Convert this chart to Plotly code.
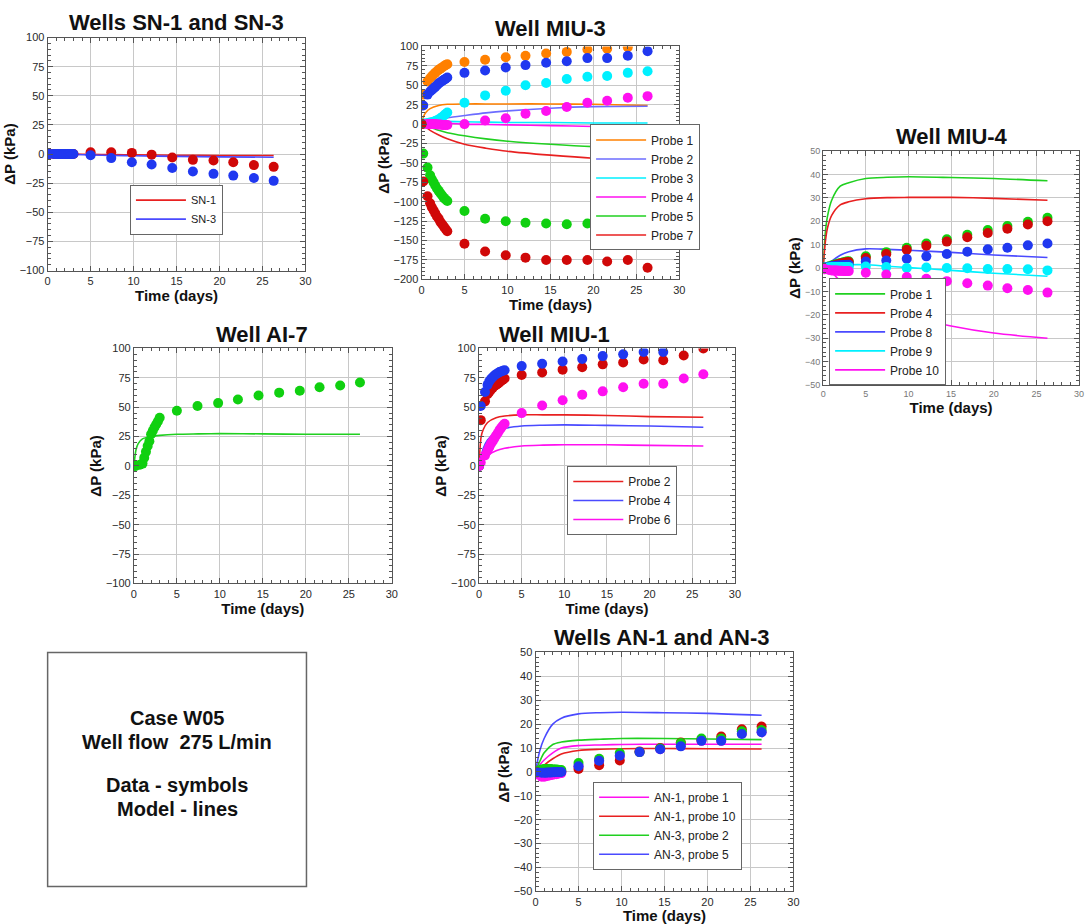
import plotly.graph_objects as go

W, H = 1088, 924

# ---------------- data ----------------
T_EARLY = [0, 0.2, 0.7, 1.0, 1.2, 1.4, 1.6, 1.8, 2.0, 2.2, 2.4, 2.6, 2.8, 3.0]
T_LATE = [5.0, 7.4, 9.8, 12.1, 14.5, 16.9, 19.3, 21.6, 24.0, 26.3]
T_DATA = T_EARLY + T_LATE
T_MODEL = [0, 0.25, 0.5, 1, 2, 3, 5, 7.5, 10, 15, 20, 26.3]

# Wells SN-1 and SN-3
SN1_DATA = [0, 0, 0, 0, 0, 0, 0, 0, 0, 0, 0, 0, 0, 0, 1.5, 1.5, 1, -0.5, -3, -5, -5.5, -7, -9.5, -11]
SN3_DATA = [0, 0, 0, 0, 0, 0, 0, 0, 0, 0, 0, 0, 0, 0, -1, -3.5, -7, -9, -12, -15, -17, -18.5, -20.5, -23]
SN1_MODEL = [0, 0, 0, 0, 0, -0.1, -0.3, -0.5, -0.7, -1, -1.2, -1.3]
SN3_MODEL = [0, 0, 0, 0, -0.2, -0.4, -0.8, -1.2, -1.5, -2, -2.4, -2.7]

# Well MIU-3
M3_P1_DATA = [0, 38, 55, 59, 61.5, 64, 66, 68, 70, 71.5, 73, 74.5, 76, 77, 80, 83, 86, 88, 91, 93, 96, 97, 99, None]
M3_P2_DATA = [0, 24, 38, 42, 44, 46, 48, 50, 52.5, 54, 55.5, 57, 58.5, 60, 66, 69, 73, 76, 79, 81, 85, 85, 88, 94]
M3_P3_DATA = [0, 1, 1.5, 2, 2.5, 3, 4, 5, 6, 7.5, 9, 11, 13, 15, 27.5, 37, 43, 50, 53, 58, 61, 62, 66, 68]
M3_P4_DATA = [0, 0, 0, 0, 0, 0, 0, -0.5, -0.5, -0.5, -1, -1, -1, -1, 0, 4.6, 7.6, 13.5, 17, 22, 27.5, 30, 34, 36]
M3_P5_DATA = [0, -38, -56, -66, -71, -75, -79, -83, -86, -89, -92, -95, -97, -99, -112, -122, -125, -127, -128, -129, -128, -130, -131, -134]
M3_P7_DATA = [0, -74, -93, -102, -107, -111, -115, -119, -122, -126, -129, -132, -135, -138, -154, -164, -169, -172, -175, -175, -175, -177, -175, -185]
M3_P1_MODEL = [0, 10, 15, 20, 24, 25.5, 26, 26, 26, 26, 25.5, 24]
M3_P2_MODEL = [0, 1, 2, 3.5, 6, 8, 11, 14.5, 17, 20.5, 22.5, 23]
M3_P3_MODEL = [0, 2, 3, 4, 4, 3.5, 3, 2.5, 2, 2, 1.5, 1.5]
M3_P4_MODEL = [0, 1, 1.5, 2, 1.5, 1, 0, -0.5, -1, -2, -3, -5]
M3_P5_MODEL = [0, -1, -2, -4, -8, -11, -15, -19, -22, -26, -29, -31]
M3_P7_MODEL = [0, -2, -4, -8, -14, -19, -26, -31, -35, -40, -44, -47]

# Well MIU-4
M4_P1_DATA = [0, 0.5, 0.8, 1.1, 1.3, 1.5, 1.7, 1.9, 2.1, 2.3, 2.5, 2.7, 2.8, 2.9, 5, 6.8, 8.7, 10.5, 12.3, 14.2, 16.3, 18, 19.8, 21.5]
M4_P4_DATA = [0, 0.2, 0.5, 0.8, 1.0, 1.2, 1.4, 1.6, 1.8, 2.0, 2.2, 2.4, 2.5, 2.6, 4.3, 6, 7.8, 9.5, 11.3, 13.2, 15, 16.8, 18.6, 20]
M4_P8_DATA = [0, 0.3, 0.6, 0.8, 0.9, 1.0, 1.0, 1.1, 1.1, 1.2, 1.2, 1.3, 1.3, 1.4, 2.8, 3.2, 4, 5, 6, 7, 8, 8.7, 9.7, 10.5]
M4_P9_DATA = [0, 0.2, 0.3, 0.4, 0.4, 0.4, 0.5, 0.5, 0.5, 0.5, 0.5, 0.5, 0.5, 0.5, 0.7, 0.4, 0, 0.2, 0, -0.1, -0.4, -0.4, -0.5, -1]
M4_P10_DATA = [0, -0.5, -0.8, -1, -1, -1.1, -1.1, -1.2, -1.2, -1.2, -1.3, -1.3, -1.3, -1.3, -2, -2.8, -3.8, -4.6, -5.6, -6.5, -7.5, -8.6, -9.4, -10.5]
M4_P1_MODEL = [0, 15, 22, 29, 35, 36.5, 38.3, 38.8, 39, 38.7, 38.3, 37.3]
M4_P4_MODEL = [0, 11, 17, 22.5, 27, 28.3, 29.6, 30.1, 30.2, 30.2, 29.8, 29]
M4_P8_MODEL = [0, 0.8, 1.5, 3, 5.5, 7, 8.2, 8, 7.6, 6.7, 5.6, 4.5]
M4_P9_MODEL = [0, 0.2, 0.4, 0.8, 1.2, 1.4, 1.4, 0.8, 0.2, -1, -2.2, -3.5]
M4_P10_MODEL = [0, -0.5, -1, -2, -5.5, -8.5, -13.5, -17.5, -20.5, -24.8, -27.8, -30]

# Well AI-7
AI7_DATA = [0, 0, 1, 2, 7, 12, 17, 21, 27, 30, 33, 35.5, 38, 41, 47, 51, 53.5, 56.5, 60, 62.4, 64, 67, 68.5, 71]
AI7_MODEL = [0, 14, 19, 23, 25, 26, 27, 27.3, 27.5, 27.3, 27, 27]

# Well MIU-1
M1_P2_DATA = [0, 39, 55, 61, 63, 65, 66.5, 68, 69, 70, 71, 72.5, 73.5, 74.5, 77.5, 79.5, 82, 84, 86.5, 88, 90.7, 90, 94, 100]
M1_P4_DATA = [0, 51, 63, 69, 72, 74, 75.5, 77, 78, 79, 80, 80.5, 81, 81.5, 85, 87, 89, 91, 93.5, 95, 97, 97, None, None]
M1_P6_DATA = [0, 3, 9, 13, 16, 19, 21, 23.5, 26, 28, 30.5, 32.5, 34.5, 36, 45, 51.5, 56, 60.7, 63.5, 67, 70, 70, 74.5, 78]
M1_P2_MODEL = [0, 25, 31, 37, 41, 42.5, 43.5, 43.5, 43.5, 43, 42, 41.5]
M1_P4_MODEL = [0, 8, 15, 22, 29, 32, 34, 34.7, 35, 34.5, 34, 33]
M1_P6_MODEL = [0, 3, 5, 9, 13, 15, 17, 17.7, 18, 18, 17.5, 17]

# Wells AN-1 and AN-3
AN1P1_DATA = [0, -1, -2, -2, -1.8, -1.6, -1.5, -1.3, -1.2, -1, -1, -0.8, -0.6, -0.5, 2.4, 4.7, 6.8, 8.3, 9.5, 10.8, 13, 13, 16, 16.6]
AN1P10_DATA = [0, 0.5, 0.8, 1, 1, 1, 1, 1, 0.8, 0.8, 0.6, 0.5, 0.3, 0.2, 1.2, 2.8, 4.8, 8.6, 10, 12.3, 13.5, 14.8, 17.9, 19]
AN3P2_DATA = [0, 0.5, 1, 1.2, 1.2, 1.2, 1.2, 1.1, 1, 1, 1, 0.9, 0.8, 0.8, 3.7, 5.5, 7.9, 8.3, 9.8, 12.1, 14, 14, 17, 17.5]
AN3P5_DATA = [0, -0.2, -0.3, -0.3, -0.3, -0.2, -0.2, -0.2, -0.1, -0.1, 0, 0, 0, 0, 2.4, 4.7, 6.8, 8.3, 9.5, 10.7, 13, 13, 15.9, 16.6]
AN1P1_MODEL = [0, 1.5, 3, 5, 8, 10, 11, 11.3, 11.5, 11.6, 11.6, 11.6]
AN1P10_MODEL = [0, 0.5, 1, 2.8, 5.5, 7.5, 9, 9.5, 9.7, 9.8, 9.7, 9.6]
AN3P2_MODEL = [0, 2.5, 4.5, 8, 11.5, 12.5, 13.3, 13.7, 14, 14, 13.8, 13.5]
AN3P5_MODEL = [0, 5, 9, 14, 20, 22.5, 24.3, 24.8, 25, 24.8, 24.5, 23.7]

# ---------------- styles ----------------
FONT = "Liberation Sans, Arial, sans-serif"
C_ORANGE = "#FF8000"
C_BLUE_D = "#2038F0"
C_BLUE_L = "#4a4aff"
C_CYAN = "#00F0FF"
C_MAG = "#FF10F0"
C_GREEN_D = "#10D010"
C_GREEN_L = "#20D020"
C_RED_D = "#D00808"
C_RED_L = "#E82020"
GRID = "#c8c8c8"
FRAME = "#555555"

fig = go.Figure()


def px_dom_x(x0, x1):
    return [x0 / W, x1 / W]


def px_dom_y(y0, y1):
    return [1 - y1 / H, 1 - y0 / H]


# panel: key, x pixel span, y pixel span, y range, dtick, minor dtick, small ticks
PANELS = [
    ("1", (45, 305), (32, 268), [-100, 100], 25, 5, False),
    ("2", (422, 682), (41, 277), [-200, 100], 25, 5, False),
    ("3", (827, 1085), (147, 384), [-50, 50], 10, 2, True),
    ("4", (132, 392), (347, 585), [-100, 100], 25, 5, False),
    ("5", (480, 738), (347, 585), [-100, 100], 25, 5, False),
    ("6", (537, 797), (655, 897), [-50, 50], 10, 2, False),
]

layout = dict(
    width=W, height=H, margin=dict(l=0, r=0, t=0, b=0),
    paper_bgcolor="white", plot_bgcolor="white",
    font=dict(family=FONT, color="#222"),
    showlegend=True,
    annotations=[], shapes=[],
)

for key, (x0, x1), (y0, y1), yr, dt, mdt, small in PANELS:
    tf = dict(family=FONT, size=9 if small else 11, color="#777" if small else "#2a2a2a")
    xa = "xaxis" if key == "1" else "xaxis" + key
    ya = "yaxis" if key == "1" else "yaxis" + key
    xr = "x" if key == "1" else "x" + key
    yref = "y" if key == "1" else "y" + key
    layout[xa] = dict(
        domain=px_dom_x(x0, x1), anchor=yref, range=[0, 30], dtick=5, tick0=0,
        showgrid=True, gridcolor=GRID, gridwidth=1, zeroline=False,
        showline=True, linecolor=FRAME, linewidth=1, mirror="ticks",
        ticks="inside", ticklen=5, tickcolor=FRAME, tickfont=tf,
        minor=dict(ticks="inside", ticklen=3, dtick=1, tickcolor=FRAME, showgrid=False),
        title=dict(text="<b>Time (days)</b>", font=dict(family=FONT, size=15, color="#111"), standoff=0),
        fixedrange=True,
    )
    layout[ya] = dict(
        domain=px_dom_y(y0, y1), anchor=xr, range=yr, dtick=dt, tick0=0,
        showgrid=True, gridcolor=GRID, gridwidth=1, zeroline=False,
        showline=True, linecolor=FRAME, linewidth=1, mirror="ticks",
        ticks="inside", ticklen=5, tickcolor=FRAME, tickfont=tf,
        minor=dict(ticks="inside", ticklen=3, dtick=mdt, tickcolor=FRAME, showgrid=False),
        title=dict(text="<b>\u0394P (kPa)</b>", font=dict(family=FONT, size=15, color="#111"), standoff=0),
        fixedrange=True,
    )


def add_panel(key, models, datas, legend_on=True):
    xr = "x" if key == "1" else "x" + key
    yr = "y" if key == "1" else "y" + key
    lg = "legend" if key == "1" else "legend" + key
    for name, vals, col in models:
        fig.add_trace(go.Scatter(
            x=T_MODEL, y=vals, mode="lines", name=name, xaxis=xr, yaxis=yr,
            line=dict(color=col, width=1.6, shape="spline", smoothing=0.8),
            legend=lg, showlegend=legend_on, hoverinfo="skip"))
    for vals, col in datas:
        fig.add_trace(go.Scatter(
            x=T_DATA, y=vals, mode="markers", xaxis=xr, yaxis=yr,
            marker=dict(color=col, size=10, line=dict(width=0)),
            legend=lg, showlegend=False, hoverinfo="skip"))


add_panel("1",
          [("SN-1", SN1_MODEL, C_RED_L), ("SN-3", SN3_MODEL, C_BLUE_L)],
          [(SN1_DATA, C_RED_D), (SN3_DATA, C_BLUE_D)])
add_panel("2",
          [("Probe 1", M3_P1_MODEL, C_ORANGE), ("Probe 2", M3_P2_MODEL, "#6c6cff"),
           ("Probe 3", M3_P3_MODEL, C_CYAN), ("Probe 4", M3_P4_MODEL, C_MAG),
           ("Probe 5", M3_P5_MODEL, C_GREEN_L), ("Probe 7", M3_P7_MODEL, C_RED_L)],
          [(M3_P1_DATA, C_ORANGE), (M3_P2_DATA, C_BLUE_D), (M3_P3_DATA, C_CYAN),
           (M3_P4_DATA, C_MAG), (M3_P5_DATA, C_GREEN_D), (M3_P7_DATA, C_RED_D)])
add_panel("3",
          [("Probe 1", M4_P1_MODEL, C_GREEN_L), ("Probe 4", M4_P4_MODEL, C_RED_L),
           ("Probe 8", M4_P8_MODEL, C_BLUE_L), ("Probe 9", M4_P9_MODEL, C_CYAN),
           ("Probe 10", M4_P10_MODEL, C_MAG)],
          [(M4_P1_DATA, C_GREEN_D), (M4_P4_DATA, C_RED_D), (M4_P8_DATA, C_BLUE_D),
           (M4_P9_DATA, C_CYAN), (M4_P10_DATA, C_MAG)])
add_panel("4",
          [("AI-7", AI7_MODEL, C_GREEN_L)],
          [(AI7_DATA, C_GREEN_D)], legend_on=False)
add_panel("5",
          [("Probe 2", M1_P2_MODEL, C_RED_L), ("Probe 4", M1_P4_MODEL, C_BLUE_L),
           ("Probe 6", M1_P6_MODEL, C_MAG)],
          [(M1_P2_DATA, C_RED_D), (M1_P4_DATA, C_BLUE_D), (M1_P6_DATA, C_MAG)])
add_panel("6",
          [("AN-1, probe 1", AN1P1_MODEL, C_MAG), ("AN-1, probe 10", AN1P10_MODEL, C_RED_L),
           ("AN-3, probe 2", AN3P2_MODEL, C_GREEN_L), ("AN-3, probe 5", AN3P5_MODEL, C_BLUE_L)],
          [(AN1P1_DATA, C_MAG), (AN1P10_DATA, C_RED_D), (AN3P2_DATA, C_GREEN_D), (AN3P5_DATA, C_BLUE_D)])


def legend_at(left, top, size=12):
    return dict(x=left / W, y=1 - top / H, xanchor="left", yanchor="top",
                bgcolor="white", bordercolor="#666", borderwidth=1,
                font=dict(family=FONT, size=size, color="#222"),
                itemwidth=50, itemclick=False, itemdoubleclick=False,
                tracegroupgap=0, visible=True)


layout["legend"] = legend_at(128, 181, 11)
layout["legend2"] = legend_at(592, 120)
layout["legend3"] = legend_at(833, 276)
layout["legend5"] = legend_at(569, 466)
layout["legend6"] = legend_at(595, 786)

# panel titles
TITLES = [
    ("Wells SN-1 and SN-3", 175, 17),
    ("Well MIU-3", 552, 23),
    ("Well MIU-4", 957, 132),
    ("Well AI-7", 261, 333),
    ("Well MIU-1", 556, 333),
    ("Wells AN-1 and AN-3", 665, 640),
]
for txt, cx, cy in TITLES:
    layout["annotations"].append(dict(
        text="<b>" + txt + "</b>", x=cx / W, y=1 - cy / H, xref="paper", yref="paper",
        xanchor="center", yanchor="middle", showarrow=False,
        font=dict(family=FONT, size=22, color="#111")))

# info box
layout["shapes"].append(dict(type="rect", xref="paper", yref="paper",
                             x0=45 / W, x1=306 / W, y0=1 - 892 / H, y1=1 - 655 / H,
                             line=dict(color="#666", width=1.5), fillcolor="rgba(0,0,0,0)"))
INFO = [("Case W05", 721), ("Well flow  275 L/min", 746), ("Data - symbols", 789), ("Model - lines", 814)]
for txt, cy in INFO:
    layout["annotations"].append(dict(
        text="<b>" + txt.replace("  ", "&nbsp; ") + "</b>", x=175.5 / W, y=1 - cy / H,
        xref="paper", yref="paper", xanchor="center", yanchor="middle", showarrow=False,
        borderpad=0, font=dict(family=FONT, size=20, color="#111")))

fig.update_layout(**layout)
fig.write_html("out.html", include_plotlyjs=True, config={"displayModeBar": False})
